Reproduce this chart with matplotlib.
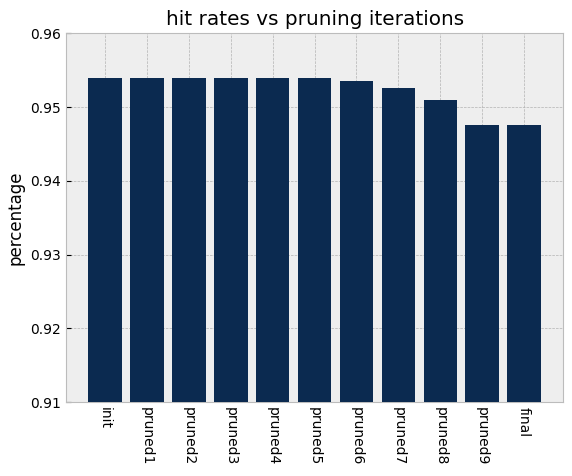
import matplotlib
matplotlib.use("Agg")
import matplotlib.pyplot as plt

labels = ["init", "pruned1", "pruned2", "pruned3", "pruned4", "pruned5", "pruned6", "pruned7", "pruned8", "pruned9", "final"]
values = [0.954, 0.954, 0.954, 0.954, 0.954, 0.954, 0.9535, 0.9526, 0.951, 0.9476, 0.9476]

plt.style.use("bmh")
fig, ax = plt.subplots(figsize=(5.72, 4.76), dpi=100)
ax.bar(labels, values, color="#0b2a50", zorder=3)
ax.set_ylim(0.91, 0.96)
ax.set_ylabel("percentage")
ax.set_title("hit rates vs pruning iterations")
plt.xticks(rotation=270)
fig.subplots_adjust(left=0.115, right=0.985, top=0.93, bottom=0.155)
fig.savefig("out.png")
